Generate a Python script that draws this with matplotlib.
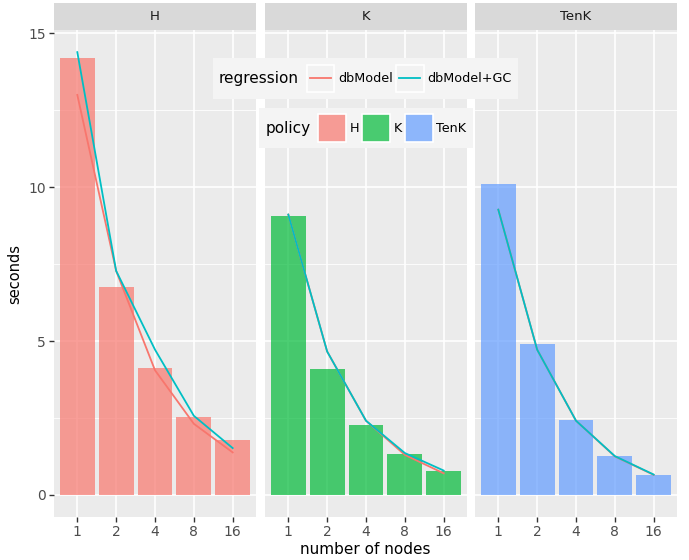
import matplotlib
matplotlib.use('Agg')
import matplotlib.pyplot as plt
from matplotlib.patches import Rectangle, Patch
from matplotlib.lines import Line2D
from matplotlib.legend_handler import HandlerBase
from matplotlib.offsetbox import HPacker

# ---------------- data ----------------
nodes = ['1', '2', '4', '8', '16']
policies = ['H', 'K', 'TenK']

seconds_H = [14.19, 6.74, 4.12, 2.52, 1.79]
seconds_K = [9.06, 4.09, 2.26, 1.33, 0.76]
seconds_TenK = [10.12, 4.91, 2.44, 1.27, 0.63]

dbModel_H = [13.00, 7.28, 4.05, 2.31, 1.38]
dbModel_K = [9.11, 4.66, 2.41, 1.30, 0.70]
dbModel_TenK = [9.27, 4.72, 2.41, 1.25, 0.65]

dbModelGC_H = [14.39, 7.28, 4.72, 2.57, 1.52]
dbModelGC_K = [9.11, 4.66, 2.41, 1.36, 0.79]
dbModelGC_TenK = [9.27, 4.72, 2.41, 1.26, 0.66]

regressions = ['dbModel', 'dbModel+GC']

bars = {'H': seconds_H, 'K': seconds_K, 'TenK': seconds_TenK}
models = {'dbModel': {'H': dbModel_H, 'K': dbModel_K, 'TenK': dbModel_TenK},
          'dbModel+GC': {'H': dbModelGC_H, 'K': dbModelGC_K, 'TenK': dbModelGC_TenK}}

# ---------------- style ----------------
policy_colors = {'H': '#F8766D', 'K': '#00BA38', 'TenK': '#619CFF'}
reg_colors = {'dbModel': '#F8766D', 'dbModel+GC': '#00BFC4'}
BAR_ALPHA = 0.7
FONT = 'DejaVu Sans'
plt.rcParams['font.family'] = [FONT]

W, H = 689, 560
fig = plt.figure(figsize=(W / 100, H / 100), dpi=100)
fig.patch.set_facecolor('white')

panel_left_px = [54, 265, 475]
panel_w_px = 202
top_px, bottom_px = 30, 517
strip_px = 27

all_vals = seconds_H + seconds_K + seconds_TenK + dbModel_H + dbModel_K + dbModel_TenK + \
    dbModelGC_H + dbModelGC_K + dbModelGC_TenK
ymax = max(all_vals)
ylim = (0 - 0.05 * ymax, ymax * 1.05)
xpos = list(range(len(nodes)))

axes = []
for i, pol in enumerate(policies):
    ax = fig.add_axes([panel_left_px[i] / W, 1 - bottom_px / H,
                       panel_w_px / W, (bottom_px - top_px) / H])
    axes.append(ax)
    ax.set_facecolor('#EBEBEB')
    for s in ax.spines.values():
        s.set_visible(False)
    ax.set_xlim(-0.6, len(nodes) - 1 + 0.6)
    ax.set_ylim(*ylim)
    ax.set_yticks([0, 5, 10, 15])
    ax.set_yticks([2.5, 7.5, 12.5], minor=True)
    ax.set_xticks(xpos)
    ax.set_xticklabels(nodes)
    ax.grid(which='major', color='white', linewidth=1.2)
    ax.grid(which='minor', axis='y', color='white', linewidth=0.6)
    ax.set_axisbelow(True)
    ax.tick_params(axis='both', which='major', length=3.5, width=1.0, color='#333333',
                   labelcolor='#4D4D4D', labelsize=10, pad=2.5)
    ax.tick_params(axis='y', which='minor', length=0)
    if i > 0:
        ax.tick_params(axis='y', which='major', length=0, labelleft=False)

    ax.bar(xpos, bars[pol], width=0.9, color=policy_colors[pol], alpha=BAR_ALPHA,
           linewidth=0, zorder=2)
    for reg in regressions:
        ax.plot(xpos, models[reg][pol], color=reg_colors[reg], linewidth=1.3, zorder=3)

    # facet strip
    sh = strip_px / (bottom_px - top_px)
    ax.add_patch(Rectangle((0, 1), 1, sh, transform=ax.transAxes, clip_on=False,
                           facecolor='#D9D9D9', edgecolor='none'))
    ax.text(0.5, 1 + sh / 2, pol, transform=ax.transAxes, ha='center', va='center',
            fontsize=9.5, color='#1A1A1A')

axes[0].set_ylabel('seconds', fontsize=10.5, color='black', labelpad=4)
fig.text((panel_left_px[0] + panel_left_px[2] + panel_w_px) / 2 / W, 1 - 549 / H,
         'number of nodes', ha='center', va='center', fontsize=11, color='black')


# ---------------- legends ----------------
class LineKey(HandlerBase):
    def create_artists(self, legend, orig, xdescent, ydescent, width, height, fontsize, trans):
        bg = Rectangle((-xdescent, -ydescent), width, height, facecolor='#F2F2F2',
                       edgecolor='white', linewidth=1.2, transform=trans)
        y = -ydescent + height / 2
        ln = Line2D([-xdescent + 0.12 * width, -xdescent + 0.88 * width], [y, y],
                    color=orig.get_color(), linewidth=orig.get_linewidth(), transform=trans)
        return [bg, ln]


class FillKey(HandlerBase):
    def create_artists(self, legend, orig, xdescent, ydescent, width, height, fontsize, trans):
        r = Rectangle((-xdescent, -ydescent), width, height, facecolor=orig.get_facecolor(),
                      edgecolor='white', linewidth=1.2, transform=trans)
        return [r]


LEG_FS = 9.2
KEY_PT = 19.8  # key square size in points (~27.5 px)
HH = (KEY_PT - 0.245 * LEG_FS) / (0.65 * LEG_FS)
HL = KEY_PT / LEG_FS


def make_legend(handles, labels, title, x_px, y_px, handler):
    leg = fig.legend(handles, labels, title=title, loc='upper left',
                     bbox_to_anchor=(x_px / W, 1 - y_px / H), bbox_transform=fig.transFigure,
                     ncol=len(handles), frameon=True, fancybox=False, facecolor='#F4F4F4',
                     edgecolor='none', framealpha=1, fontsize=LEG_FS, title_fontsize=11,
                     handlelength=HL, handleheight=HH, handletextpad=0.3,
                     columnspacing=0.25, borderpad=0.5, borderaxespad=0,
                     handler_map={type(handles[0]): handler})
    box = leg._legend_box
    box.__class__ = HPacker
    box.align = 'center'
    box.sep = 5.5
    return leg


reg_handles = [Line2D([], [], color=reg_colors[r], linewidth=1.3) for r in regressions]
make_legend(reg_handles, regressions, 'regression', 212.7, 58.3, LineKey())

pol_handles = [Patch(facecolor=matplotlib.colors.to_rgba(policy_colors[p], BAR_ALPHA))
               for p in policies]
make_legend(pol_handles, policies, 'policy', 259, 108, FillKey())

fig.savefig('out.png', dpi=100)
